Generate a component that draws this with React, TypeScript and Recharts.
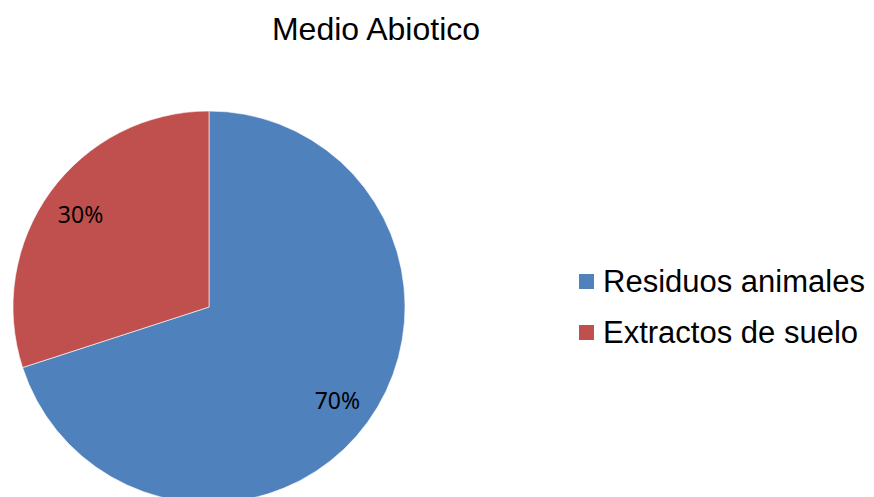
import React from 'react';
import { PieChart, Pie, Cell, Legend } from 'recharts';

// Values
const categories = ['Residuos animales', 'Extractos de suelo'];
const shares = [70, 30];
const title = 'Medio Abiotico';

const COLORS = ['#4F81BD', '#C0504D'];

const data = categories.map((name, i) => ({ name, value: shares[i] }));

const RADIAN = Math.PI / 180;

// Percent labels sit inside the slice, at ~80% of the radius
const renderLabel = (props: any) => {
  const { cx, cy, midAngle, outerRadius, percent } = props;
  const r = outerRadius * 0.81;
  const x = cx + r * Math.cos(-midAngle * RADIAN);
  const y = cy + r * Math.sin(-midAngle * RADIAN);
  return (
    <text
      x={x}
      y={y}
      fill="#000"
      textAnchor="middle"
      dominantBaseline="central"
      style={{ fontFamily: '"Noto Sans", sans-serif', fontSize: 23 }}
    >
      {`${Math.round(percent * 100)}%`}
    </text>
  );
};

const LegendContent = () => (
  <div style={{ fontFamily: '"Liberation Sans", Arial, sans-serif', fontSize: 31, color: '#000' }}>
    {data.map((d, i) => (
      <div key={d.name} style={{ display: 'flex', alignItems: 'center', height: 51 }}>
        <span
          style={{
            display: 'inline-block',
            width: 15,
            height: 15,
            background: COLORS[i],
            marginRight: 9,
          }}
        />
        <span>{d.name}</span>
      </div>
    ))}
  </div>
);

export default function App() {
  return (
    <div style={{ position: 'absolute', left: 0, top: 0, width: 874, height: 497, background: '#fff', overflow: 'hidden' }}>
      <div
        style={{
          position: 'absolute',
          top: 11,
          left: 0,
          width: 752,
          textAlign: 'center',
          fontFamily: '"Liberation Sans", Arial, sans-serif',
          fontSize: 32,
          color: '#000',
        }}
      >
        {title}
      </div>
      <PieChart width={874} height={497} margin={{ top: 0, right: 0, bottom: 0, left: 0 }}>
        <Pie
          data={data}
          dataKey="value"
          nameKey="name"
          cx={209}
          cy={307}
          outerRadius={196}
          startAngle={90}
          endAngle={-270}
          stroke="#ffffff"
          strokeWidth={0.6}
          label={renderLabel}
          labelLine={false}
          isAnimationActive={false}
        >
          {data.map((d, i) => (
            <Cell key={d.name} fill={COLORS[i]} />
          ))}
        </Pie>
        <Legend
          content={<LegendContent />}
          wrapperStyle={{ position: 'absolute', left: 579, top: 256, width: 295 }}
        />
      </PieChart>
    </div>
  );
}
